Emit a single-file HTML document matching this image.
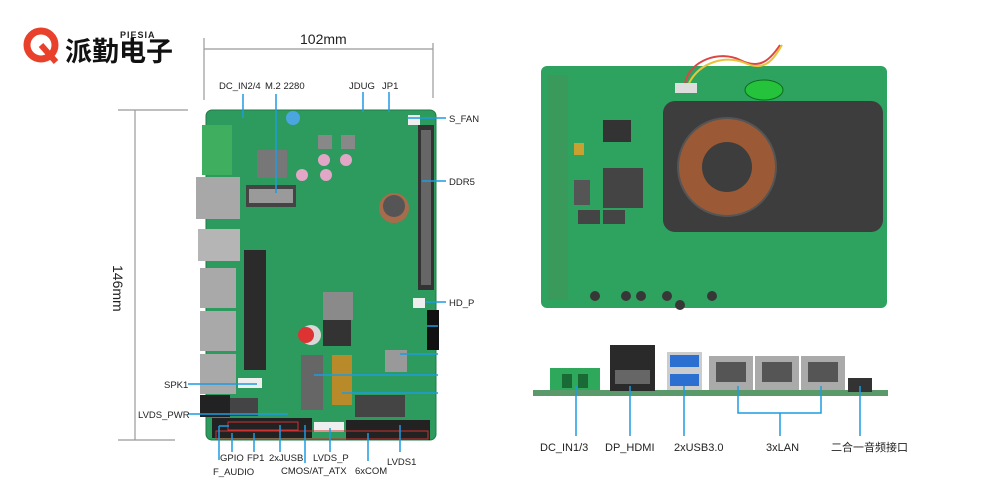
<!DOCTYPE html>
<html><head><meta charset="utf-8"><style>
html,body{margin:0;padding:0;background:#fff;width:1000px;height:500px;overflow:hidden}
svg{display:block}
text{font-family:"Liberation Sans","Noto Sans CJK SC",sans-serif;fill:#222}
</style></head><body>
<svg width="1000" height="500" viewBox="0 0 1000 500" xmlns="http://www.w3.org/2000/svg">
<!-- logo -->
<circle cx="41" cy="45" r="14" fill="none" stroke="#e8402a" stroke-width="7"/>
<path d="M41 45 L56 62" stroke="#e8402a" stroke-width="6"/>
<text x="65" y="61" font-size="27" font-weight="bold" fill="#111" style="fill:#111">派勤电子</text>
<text x="120" y="38" font-size="9" font-weight="bold" letter-spacing="1">PIESIA</text>

<!-- dimension lines -->
<g stroke="#999" stroke-width="1.2" fill="none">
<line x1="204" y1="49" x2="433" y2="49"/>
<line x1="204" y1="38" x2="204" y2="100"/>
<line x1="433" y1="43" x2="433" y2="98"/>
<line x1="135" y1="110" x2="135" y2="440"/>
<line x1="118" y1="110" x2="188" y2="110"/>
<line x1="118" y1="440" x2="175" y2="440"/>
</g>
<text x="300" y="44" font-size="14">102mm</text>
<text transform="translate(113,265) rotate(90)" font-size="14">146mm</text>

<!-- left board -->
<rect x="206" y="110" width="230" height="330" rx="6" fill="#2e9b5e"/>
<rect x="206" y="110" width="230" height="330" rx="6" fill="none" stroke="#1f7a45"/>
<!-- left edge connectors -->
<rect x="202" y="125" width="30" height="50" fill="#3fae5e"/>
<rect x="196" y="177" width="44" height="42" fill="#a8a8a8"/>
<rect x="198" y="229" width="42" height="32" fill="#b5b5b5"/>
<rect x="200" y="268" width="36" height="40" fill="#a9a9a9"/>
<rect x="200" y="311" width="36" height="40" fill="#a9a9a9"/>
<rect x="200" y="354" width="36" height="40" fill="#a9a9a9"/>
<rect x="200" y="395" width="30" height="22" fill="#222"/>
<!-- components -->
<rect x="257" y="150" width="30" height="28" fill="#777"/>
<rect x="246" y="185" width="50" height="22" fill="#444"/>
<rect x="249" y="189" width="44" height="14" fill="#9a9a9a"/>
<rect x="418" y="125" width="16" height="165" fill="#333"/>
<rect x="421" y="130" width="10" height="155" fill="#666"/>
<circle cx="394" cy="208" r="15" fill="#a86b4b"/><circle cx="394" cy="206" r="11" fill="#555"/>
<circle cx="293" cy="118" r="7" fill="#4ba6e0"/>
<circle cx="324" cy="160" r="6" fill="#e2a7c6"/><circle cx="346" cy="160" r="6" fill="#e2a7c6"/>
<circle cx="302" cy="175" r="6" fill="#e2a7c6"/><circle cx="326" cy="175" r="6" fill="#e2a7c6"/>
<rect x="318" y="135" width="14" height="14" fill="#888"/><rect x="341" y="135" width="14" height="14" fill="#888"/>
<rect x="244" y="250" width="22" height="120" fill="#2b2b2b"/>
<rect x="323" y="292" width="30" height="28" fill="#8a8a8a"/>
<rect x="323" y="320" width="28" height="26" fill="#333"/>
<circle cx="311" cy="335" r="10" fill="#d8d8d8"/><circle cx="306" cy="335" r="8" fill="#d33"/>
<rect x="301" y="355" width="22" height="55" fill="#666"/>
<rect x="332" y="355" width="20" height="50" fill="#b88a2a"/>
<rect x="427" y="310" width="12" height="40" fill="#111"/>
<rect x="385" y="350" width="22" height="22" fill="#999"/>
<rect x="355" y="395" width="50" height="22" fill="#444"/>
<rect x="230" y="398" width="28" height="18" fill="#444"/>
<rect x="238" y="378" width="24" height="10" fill="#eee"/>
<rect x="314" y="422" width="30" height="10" fill="#eee"/>
<rect x="212" y="418" width="100" height="20" fill="#222"/>
<rect x="346" y="420" width="84" height="20" fill="#222"/>
<rect x="228" y="422" width="70" height="8" fill="none" stroke="#c33"/>
<rect x="216" y="431" width="212" height="8" fill="none" stroke="#c33"/>
<rect x="413" y="298" width="12" height="10" fill="#eee"/>
<rect x="408" y="115" width="12" height="10" fill="#eee"/>

<!-- left callouts -->
<g stroke="#1e9be0" stroke-width="1.5" fill="none">
<line x1="243" y1="94" x2="243" y2="118"/>
<line x1="276" y1="94" x2="276" y2="193"/>
<line x1="363" y1="92" x2="363" y2="112"/>
<line x1="389" y1="92" x2="389" y2="112"/>
<line x1="407" y1="118" x2="446" y2="118"/>
<line x1="422" y1="181" x2="446" y2="181"/>
<line x1="425" y1="302" x2="446" y2="302"/>
<line x1="427" y1="326" x2="438" y2="326"/>
<line x1="400" y1="354" x2="438" y2="354"/>
<line x1="314" y1="375" x2="438" y2="375"/>
<line x1="342" y1="393" x2="438" y2="393"/>
<line x1="188" y1="384" x2="257" y2="384"/>
<line x1="188" y1="414" x2="288" y2="414"/>
<line x1="219" y1="460" x2="219" y2="426"/><line x1="219" y1="426" x2="229" y2="426"/>
<line x1="232" y1="452" x2="232" y2="433"/>
<line x1="254" y1="452" x2="254" y2="433"/>
<line x1="280" y1="452" x2="280" y2="425"/>
<line x1="305" y1="463" x2="305" y2="425"/>
<line x1="330" y1="452" x2="330" y2="428"/>
<line x1="368" y1="461" x2="368" y2="433"/>
<line x1="400" y1="452" x2="400" y2="425"/>
</g>
<g font-size="9.5">
<text x="219" y="89">DC_IN2/4</text>
<text x="265" y="89">M.2 2280</text>
<text x="349" y="89">JDUG</text>
<text x="382" y="89">JP1</text>
<text x="449" y="122">S_FAN</text>
<text x="449" y="185">DDR5</text>
<text x="449" y="306">HD_P</text>
<text x="164" y="388">SPK1</text>
<text x="138" y="418">LVDS_PWR</text>
<text x="220" y="461">GPIO</text>
<text x="247" y="461">FP1</text>
<text x="269" y="461">2xJUSB</text>
<text x="313" y="461">LVDS_P</text>
<text x="387" y="465">LVDS1</text>
<text x="213" y="475">F_AUDIO</text>
<text x="281" y="474">CMOS/AT_ATX</text>
<text x="355" y="474">6xCOM</text>
</g>

<!-- right top board -->
<rect x="541" y="66" width="346" height="242" rx="6" fill="#2ea35f"/>
<rect x="548" y="75" width="20" height="225" fill="#3a9a5c"/>
<rect x="603" y="120" width="28" height="22" fill="#333"/>
<rect x="603" y="168" width="40" height="40" fill="#444"/>
<rect x="574" y="180" width="16" height="25" fill="#555"/>
<rect x="578" y="210" width="22" height="14" fill="#444"/><rect x="603" y="210" width="22" height="14" fill="#444"/>
<rect x="574" y="143" width="10" height="12" fill="#c9a130"/>
<ellipse cx="764" cy="90" rx="19" ry="10" fill="#25c23b" stroke="#0c6b1c"/>
<rect x="675" y="83" width="22" height="10" fill="#ddd"/>
<path d="M685 83 C690 60 720 50 740 60 C760 70 770 60 780 45" stroke="#d44" stroke-width="2" fill="none"/>
<path d="M689 83 C700 62 725 55 745 63 C765 72 773 60 782 45" stroke="#e9c43a" stroke-width="2" fill="none"/>
<rect x="663" y="101" width="220" height="131" rx="12" fill="#3d3d3d"/>
<circle cx="727" cy="167" r="49" fill="#9b5a35" stroke="#555" stroke-width="2"/>
<circle cx="727" cy="167" r="25" fill="#3d3d3d"/>
<g fill="#373737">
<circle cx="680" cy="305" r="5"/><circle cx="626" cy="296" r="5"/><circle cx="641" cy="296" r="5"/><circle cx="667" cy="296" r="5"/><circle cx="595" cy="296" r="5"/><circle cx="712" cy="296" r="5"/>
</g>

<!-- right bottom strip -->
<rect x="533" y="390" width="355" height="6" fill="#5a9a6a"/>
<rect x="550" y="368" width="50" height="22" fill="#2ea85a"/>
<rect x="562" y="374" width="10" height="14" fill="#1a6a35"/><rect x="578" y="374" width="10" height="14" fill="#1a6a35"/>
<rect x="610" y="345" width="45" height="46" fill="#2a2a2a"/>
<rect x="615" y="370" width="35" height="14" fill="#666"/>
<rect x="667" y="352" width="35" height="38" fill="#ccc"/>
<rect x="670" y="355" width="29" height="12" fill="#2b6fd0"/><rect x="670" y="374" width="29" height="12" fill="#2b6fd0"/>
<rect x="709" y="356" width="44" height="34" fill="#aaa"/><rect x="716" y="362" width="30" height="20" fill="#555"/>
<rect x="755" y="356" width="44" height="34" fill="#aaa"/><rect x="762" y="362" width="30" height="20" fill="#555"/>
<rect x="801" y="356" width="44" height="34" fill="#aaa"/><rect x="808" y="362" width="30" height="20" fill="#555"/>
<rect x="848" y="378" width="24" height="14" fill="#333"/>
<g stroke="#1e9be0" stroke-width="1.5" fill="none">
<line x1="576" y1="386" x2="576" y2="436"/>
<line x1="630" y1="386" x2="630" y2="436"/>
<line x1="684" y1="386" x2="684" y2="436"/>
<polyline points="738,386 738,413 821,413 821,386"/>
<line x1="780" y1="413" x2="780" y2="436"/>
<line x1="860" y1="386" x2="860" y2="436"/>
</g>
<g font-size="11">
<text x="540" y="451">DC_IN1/3</text>
<text x="605" y="451">DP_HDMI</text>
<text x="674" y="451">2xUSB3.0</text>
<text x="766" y="451">3xLAN</text>
<text x="831" y="451">二合一音频接口</text>
</g>
</svg>
</body></html>
